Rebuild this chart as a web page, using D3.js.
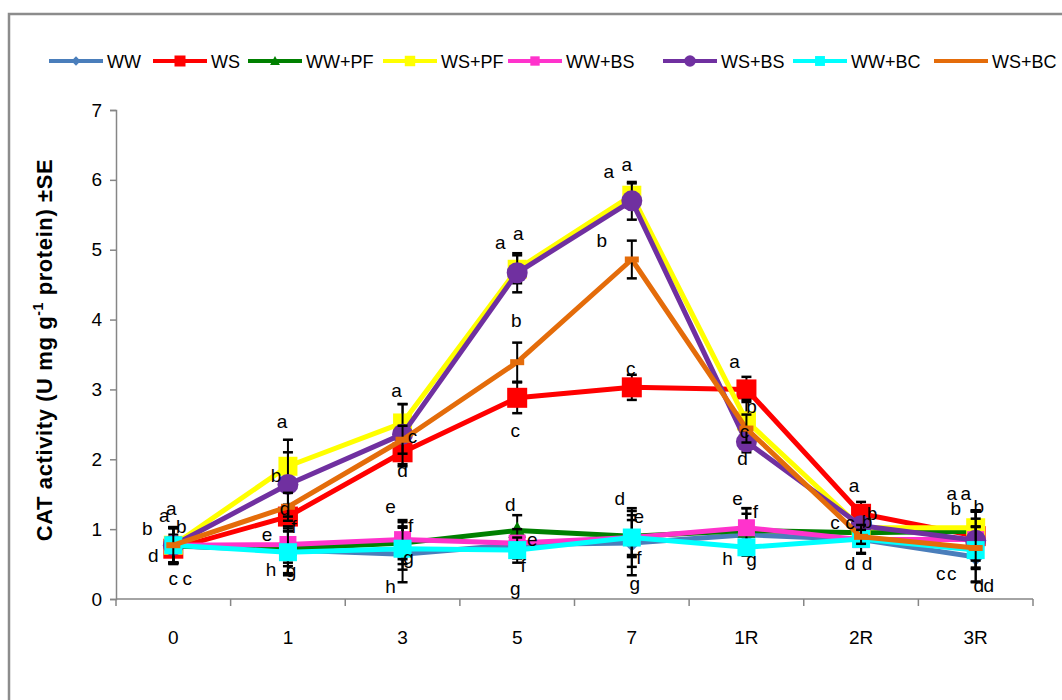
<!DOCTYPE html>
<html>
<head>
<meta charset="utf-8">
<script src="https://cdn.jsdelivr.net/npm/d3@7"></script>
<style>
  html, body { margin: 0; padding: 0; background: #fff; }
  svg { display: block; font-family: "Liberation Sans", Arial, sans-serif; }
</style>
</head>
<body>
<svg id="chart" width="1062" height="700"></svg>
<script>
// Sampling days (R = recovery days)
const categories = ["0", "1", "3", "5", "7", "1R", "2R", "3R"];
const yTicks = [0, 1, 2, 3, 4, 5, 6, 7];

// CAT activity means per treatment
const WW    = [0.76, 0.70, 0.64, 0.78, 0.80, 0.92, 0.85, 0.60];
const WS    = [0.72, 1.18, 2.10, 2.88, 3.03, 3.00, 1.22, 0.90];
const WW_PF = [0.76, 0.72, 0.80, 0.98, 0.90, 0.98, 0.95, 0.97];
const WS_PF = [0.77, 1.90, 2.52, 4.72, 5.78, 2.55, 1.02, 1.02];
const WW_BS = [0.77, 0.78, 0.85, 0.80, 0.88, 1.02, 0.85, 0.85];
const WS_BS = [0.77, 1.64, 2.36, 4.67, 5.70, 2.25, 1.05, 0.84];
const WW_BC = [0.77, 0.67, 0.72, 0.70, 0.88, 0.74, 0.86, 0.70];
const WS_BC = [0.77, 1.32, 2.28, 3.39, 4.86, 2.44, 0.89, 0.73];

// Standard errors
const WW_se    = [0.25, 0.36, 0.40, 0.20, 0.46, 0.30, 0.20, 0.36];
const WS_se    = [0.20, 0.17, 0.20, 0.22, 0.18, 0.18, 0.17, 0.35];
const WW_PF_se = [0.26, 0.25, 0.30, 0.22, 0.30, 0.32, 0.20, 0.30];
const WS_PF_se = [0.25, 0.38, 0.27, 0.20, 0.17, 0.30, 0.10, 0.25];
const WW_BS_se = [0.25, 0.26, 0.28, 0.20, 0.42, 0.28, 0.20, 0.40];
const WS_BS_se = [0.25, 0.46, 0.43, 0.28, 0.27, 0.15, 0.10, 0.20];
const WW_BC_se = [0.26, 0.30, 0.30, 0.18, 0.25, 0.06, 0.20, 0.45];
const WS_BC_se = [0.25, 0.20, 0.20, 0.28, 0.27, 0.20, 0.10, 0.30];

// Significance letters
const WW_sig    = ["c", "g", "g", "g", "g", "g", "d", "c"];
const WS_sig    = ["d", "d", "d", "c", "c", "a", "a", "a"];
const WW_PF_sig = ["b", "f", "f", "d", "d", "f", "c", "b"];
const WS_PF_sig = ["a", "a", "a", "a", "a", "b", "b", "a"];
const WW_BS_sig = ["c", "e", "e", "e", "e", "e", "d", "c"];
const WS_BS_sig = ["a", "b", "",  "a", "a", "d", "b", "b"];
const WW_BC_sig = ["",  "h", "h", "f", "f", "h", "",  "d"];
const WS_BC_sig = ["b", "",  "c", "b", "b", "c", "c", "d"];

// Letter placement relative to each point (px)
const sigOffsets = {
  "WW":    [[0,34],[3,22],[6,5],[-2,45],[3,42],[5,26],[-11,25],[-35,18]],
  "WS":    [[-20,8],[-3,-7],[0,20],[-2,34],[-1,-17],[-12,-26],[-7,-27],[-24,-41]],
  "WW+PF": [[-26,-16],[6,-21],[8,-16],[-7,-25],[-12,-36],[9,-18],[-26,-9],[3,-23]],
  "WS+PF": [[-2,-35],[-6,-43],[-6,-31],[1,-34],[-5,-29],[5,-13],[11,-13],[-10,-33]],
  "WW+BS": [[14,35],[-21,-9],[-12,-32],[15,-2],[7,-20],[-9,-28],[6,25],[-24,35]],
  "WS+BS": [[-9,-28],[-12,-7],[0,0],[-17,-29],[-23,-28],[-4,18],[6,-3],[-20,-30]],
  "WW+BC": [[0,0],[-17,19],[-12,39],[6,17],[7,21],[-19,13],[0,0],[3,37]],
  "WS+BC": [[8,-17],[0,0],[10,-2],[-1,-40],[-30,-17],[-2,4],[-11,-13],[13,39]]
};

// legend entry start positions (px)
const legendX = [49, 153, 248, 383, 508, 663, 793, 934];

const series = [
  { name: "WW",    values: WW,    se: WW_se,    sig: WW_sig,    color: "#4A7EBB", marker: "diamond" },
  { name: "WS",    values: WS,    se: WS_se,    sig: WS_sig,    color: "#FF0000", marker: "square", size: 20 },
  { name: "WW+PF", values: WW_PF, se: WW_PF_se, sig: WW_PF_sig, color: "#008000", marker: "triangle" },
  { name: "WS+PF", values: WS_PF, se: WS_PF_se, sig: WS_PF_sig, color: "#FFFF00", marker: "square", size: 19 },
  { name: "WW+BS", values: WW_BS, se: WW_BS_se, sig: WW_BS_sig, color: "#FF33CC", marker: "square", size: 17 },
  { name: "WS+BS", values: WS_BS, se: WS_BS_se, sig: WS_BS_sig, color: "#7030A0", marker: "circle" },
  { name: "WW+BC", values: WW_BC, se: WW_BC_se, sig: WW_BC_sig, color: "#00FFFF", marker: "square", size: 18 },
  { name: "WS+BC", values: WS_BC, se: WS_BC_se, sig: WS_BC_sig, color: "#E46C0A", marker: "dash" }
];

const svg = d3.select("#chart");
const AXIS = "#868686";
const FONT = "'Liberation Sans', Arial, sans-serif";

// chart frame
svg.append("path")
  .attr("d", "M9,700V14H1062")
  .attr("fill", "none").attr("stroke", "#8C8C8C").attr("stroke-width", 2.5);

const x = d3.scaleBand().domain(categories).range([116, 1033]);
const cx = c => x(c) + x.bandwidth() / 2;
const y = d3.scaleLinear().domain([0, 7]).range([599, 110]);

// y axis
const yAxis = svg.append("g").attr("transform", "translate(116,0)")
  .call(d3.axisLeft(y).tickValues(yTicks).tickFormat(d3.format("d")).tickSize(6).tickPadding(8));
yAxis.select(".domain").attr("stroke", AXIS).attr("stroke-width", 1.5);
yAxis.selectAll(".tick line").attr("stroke", AXIS).attr("stroke-width", 1.5);
yAxis.selectAll(".tick text").attr("fill", "#000").style("font-size", "19px").style("font-family", FONT);

// x axis: labels at category centres, tick marks between categories
const xAxis = svg.append("g").attr("transform", "translate(0,599)")
  .call(d3.axisBottom(x).tickSize(0).tickPadding(32));
xAxis.select(".domain").remove();
xAxis.selectAll(".tick text").attr("fill", "#000").style("font-size", "19px").style("font-family", FONT);
xAxis.append("line").attr("x1", 116).attr("x2", 1033).attr("y1", 0).attr("y2", 0)
  .attr("stroke", AXIS).attr("stroke-width", 1.5);
xAxis.selectAll(".bound").data(categories.map(c => x(c)).concat([x.range()[1]]))
  .join("line").attr("class", "bound")
  .attr("x1", d => d).attr("x2", d => d).attr("y1", 0).attr("y2", 7)
  .attr("stroke", AXIS).attr("stroke-width", 1.5);

// y axis title
const title = svg.append("text")
  .attr("transform", "translate(52,350) rotate(-90)")
  .attr("text-anchor", "middle")
  .style("font-size", "22px").style("font-weight", "bold").style("letter-spacing", "0.6px");
title.append("tspan").text("CAT activity (U mg g");
title.append("tspan").attr("dy", -9).style("font-size", "14px").text("-1");
title.append("tspan").attr("dy", 9).text(" protein) \u00B1SE");

// marker shapes
function drawMarker(sel, s, scale) {
  const k = scale || 1;
  if (s.marker === "square") {
    const w = s.size * k;
    sel.append("rect").attr("x", -w / 2).attr("y", -w / 2).attr("width", w).attr("height", w)
      .attr("fill", s.color);
  } else if (s.marker === "circle") {
    sel.append("circle").attr("r", 10.5 * k).attr("fill", s.color);
  } else if (s.marker === "diamond") {
    const r = 8.5 * k;
    sel.append("path").attr("d", `M0,${-r}L${r},0L0,${r}L${-r},0Z`).attr("fill", s.color);
  } else if (s.marker === "triangle") {
    const r = 9 * k;
    sel.append("path").attr("d", `M0,${-r}L${r},${r * 0.8}L${-r},${r * 0.8}Z`).attr("fill", s.color);
  } else if (s.marker === "dash") {
    sel.append("rect").attr("x", -7 * k).attr("y", -3 * k).attr("width", 14 * k).attr("height", 6 * k)
      .attr("fill", s.color);
  }
}

const line = d3.line().x((d, i) => cx(categories[i])).y(d => y(d));
const plot = svg.append("g");

series.forEach(s => {
  const g = plot.append("g");
  g.append("path").datum(s.values).attr("d", line)
    .attr("fill", "none").attr("stroke", s.color).attr("stroke-width", 5)
    .attr("stroke-linejoin", "round");
  // error bars
  const eb = g.selectAll(".eb").data(s.values.map((v, i) => ({ v, e: s.se[i], c: categories[i] })))
    .join("g").attr("transform", d => `translate(${cx(d.c)},0)`);
  eb.append("line").attr("y1", d => y(d.v - d.e)).attr("y2", d => y(d.v + d.e))
    .attr("stroke", "#000").attr("stroke-width", 2);
  eb.append("line").attr("x1", -5).attr("x2", 5).attr("y1", d => y(d.v + d.e)).attr("y2", d => y(d.v + d.e))
    .attr("stroke", "#000").attr("stroke-width", 2.5);
  eb.append("line").attr("x1", -5).attr("x2", 5).attr("y1", d => y(d.v - d.e)).attr("y2", d => y(d.v - d.e))
    .attr("stroke", "#000").attr("stroke-width", 2.5);
  // markers
  s.values.forEach((v, i) => {
    const m = g.append("g").attr("transform", `translate(${cx(categories[i])},${y(v)})`);
    drawMarker(m, s);
  });
});

// significance letters
const letters = svg.append("g").style("font-size", "19px").style("font-family", FONT);
series.forEach(s => {
  s.sig.forEach((t, i) => {
    if (!t) return;
    const off = sigOffsets[s.name][i];
    letters.append("text")
      .attr("x", cx(categories[i]) + off[0])
      .attr("y", y(s.values[i]) + off[1] + 5)
      .attr("text-anchor", "middle")
      .text(t);
  });
});

// legend
const legend = svg.append("g").attr("transform", "translate(0,61)");
series.forEach((s, i) => {
  const item = legend.append("g").attr("transform", `translate(${legendX[i]},0)`);
  item.append("line").attr("x1", 0).attr("x2", 54).attr("stroke", s.color).attr("stroke-width", 4);
  const m = item.append("g").attr("transform", "translate(27,0)");
  drawMarker(m, s, 0.55);
  item.append("text").attr("x", 58).attr("y", 6.5).style("font-size", "18px").text(s.name);
});
</script>
</body>
</html>
